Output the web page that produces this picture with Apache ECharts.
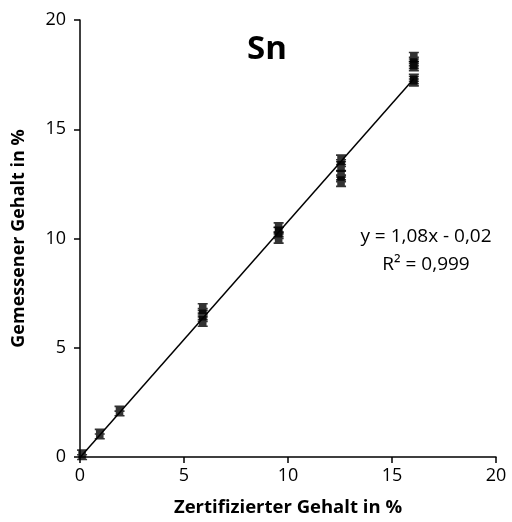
<!DOCTYPE html>
<html><head><meta charset="utf-8">
<script src="https://cdn.jsdelivr.net/npm/echarts@6/dist/echarts.min.js"></script>
<style>html,body{margin:0;padding:0;background:#fff}#c{width:512px;height:522px}</style>
</head><body><div id="c"></div>
<script>
const xVals = [0.1, 0.95, 1.9, 5.9, 5.9, 5.9, 9.55, 9.55, 9.55, 12.55, 12.55, 12.55, 12.55, 16.05, 16.05, 16.05, 16.05, 16.05];
const yVals = [0.1, 1.05, 2.1, 6.8, 6.5, 6.2, 10.5, 10.3, 10.0, 13.6, 13.3, 12.9, 12.6, 18.3, 18.0, 17.9, 17.3, 17.2];
const fitSlope = 1.08, fitIntercept = -0.02;
const fitRange = [0, 16.05];
const axisTicks = [0, 5, 10, 15, 20];
const title = 'Sn';
const eqText = ['y = 1,08x - 0,02', 'R² = 0,999'];

const points = xVals.map((x, i) => [x, yVals[i]]);
const fitLine = fitRange.map(x => [x, fitSlope * x + fitIntercept]);
const font = 'Open Sans';
const marker = 'path://M0,0H10V1.5H8.8V4.3H10V5.7H8.8V8.5H10V10H0V8.5H1.2V5.7H0V4.3H1.2V1.5H0Z';

const chart = echarts.init(document.getElementById('c'));
chart.setOption({
  animation: false,
  grid: {left: 80, right: 16, top: 20, bottom: 65, containLabel: false},
  title: {text: title, left: 262, top: 28, textAlign: 'center',
    textStyle: {fontFamily: font, fontWeight: 'bold', fontSize: 33, color: '#000'}},
  graphic: [
    {type: 'text', style: {text: eqText[0], x: 426, y: 237, textAlign: 'center', textVerticalAlign: 'middle', font: '19px "Open Sans"', fill: '#000'}},
    {type: 'text', style: {text: eqText[1], x: 426, y: 265, textAlign: 'center', textVerticalAlign: 'middle', font: '19px "Open Sans"', fill: '#000'}}
  ],
  xAxis: {type: 'value', min: axisTicks[0], max: axisTicks[axisTicks.length-1], interval: 5,
    name: 'Zertifizierter Gehalt in %', nameLocation: 'middle', nameGap: 41,
    nameTextStyle: {fontFamily: font, fontWeight: 'bold', fontSize: 18.5, color: '#000'},
    axisLine: {show: true, onZero: false, lineStyle: {color: '#000', width: 1.5}},
    axisTick: {show: true, inside: false, length: 6, lineStyle: {color: '#000', width: 1.5}},
    axisLabel: {fontFamily: font, fontSize: 18, color: '#000', margin: 10},
    splitLine: {show: false}},
  yAxis: {type: 'value', min: axisTicks[0], max: axisTicks[axisTicks.length-1], interval: 5,
    name: 'Gemessener Gehalt in %', nameLocation: 'middle', nameGap: 52,
    nameTextStyle: {fontFamily: font, fontWeight: 'bold', fontSize: 18, color: '#000'},
    axisLine: {show: true, onZero: false, lineStyle: {color: '#000', width: 1.5}},
    axisTick: {show: true, inside: false, length: 6, lineStyle: {color: '#000', width: 1.5}},
    axisLabel: {fontFamily: font, fontSize: 18, color: '#000', margin: 14},
    splitLine: {show: false}},
  series: [
    {type: 'line', data: fitLine, symbol: 'none', lineStyle: {color: '#000', width: 1.5}, z: 3},
    {type: 'scatter', data: points, symbol: marker, symbolSize: [10, 11], itemStyle: {color: '#000'}, z: 4}
  ]
});
</script></body></html>
